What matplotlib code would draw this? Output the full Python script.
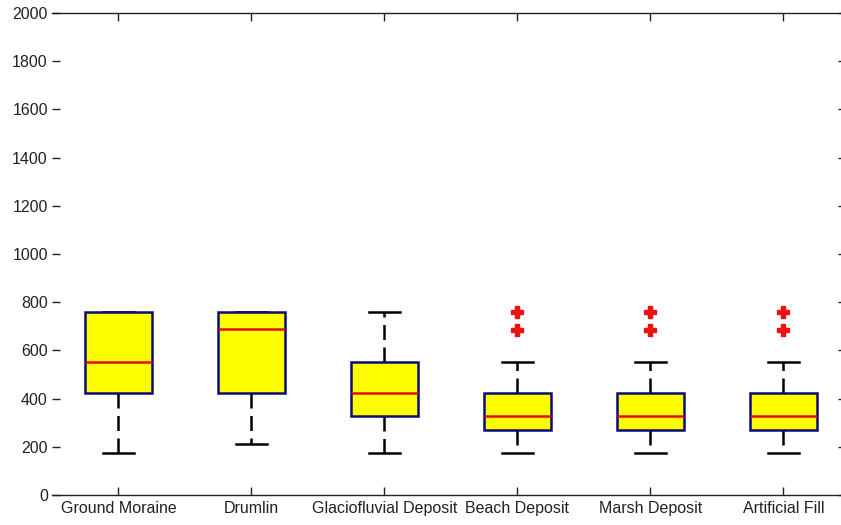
import matplotlib
matplotlib.use("Agg")
import matplotlib.pyplot as plt

plt.rcParams["font.family"] = ["Liberation Sans", "DejaVu Sans"]

CATEGORIES = [
    "Ground Moraine",
    "Drumlin",
    "Glaciofluvial Deposit",
    "Beach Deposit",
    "Marsh Deposit",
    "Artificial Fill",
]
WHISKER_LOW = [175, 210, 175, 175, 175, 175]
Q1 = [422, 422, 328, 270, 270, 270]
MEDIAN = [553, 689, 422, 329, 329, 329]
Q3 = [760, 760, 553, 422, 422, 422]
WHISKER_HIGH = [760, 760, 760, 553, 553, 553]
OUTLIERS = [[], [], [], [685, 758], [685, 758], [685, 758]]
Y_TICKS = list(range(0, 2001, 200))

W, H = 841, 525
fig = plt.figure(figsize=(W / 100, H / 100), dpi=100)
ax = fig.add_axes([52 / W, 30 / H, (846 - 52) / W, 482 / H])

stats = [
    {
        "label": name,
        "whislo": lo,
        "q1": q1,
        "med": med,
        "q3": q3,
        "whishi": hi,
        "fliers": fl,
    }
    for name, lo, q1, med, q3, hi, fl in zip(
        CATEGORIES, WHISKER_LOW, Q1, MEDIAN, Q3, WHISKER_HIGH, OUTLIERS
    )
]

ax.bxp(
    stats,
    positions=range(1, len(CATEGORIES) + 1),
    widths=0.5,
    patch_artist=True,
    showfliers=True,
    capwidths=0.24,
    boxprops=dict(facecolor="#ffff00", edgecolor="#0a0a78", linewidth=1.8, zorder=3),
    medianprops=dict(color="#e01010", linewidth=1.8, zorder=4),
    whiskerprops=dict(color="black", linewidth=1.8, linestyle=(0, (6, 3)), zorder=2),
    capprops=dict(color="black", linewidth=1.8, zorder=2),
    flierprops=dict(marker="P", markersize=8, markerfacecolor="#ee1111",
                    markeredgecolor="#ee1111", linestyle="none"),
)

ax.set_xlim(0.5, 6.47)
ax.set_ylim(0, 2000)
ax.set_yticks(Y_TICKS)
ax.set_xticks(range(1, len(CATEGORIES) + 1))
ax.set_xticklabels(CATEGORIES)
ax.spines["left"].set_visible(False)
for side in ("top", "bottom", "right"):
    ax.spines[side].set_linewidth(1.0)
    ax.spines[side].set_color("#222222")
ax.tick_params(axis="both", direction="in", length=6, width=1.0,
               labelsize=11.5, colors="#222222", top=True, right=True)
ax.tick_params(axis="x", pad=4)
ax.tick_params(axis="y", pad=3)

fig.savefig("out.png", dpi=100)
